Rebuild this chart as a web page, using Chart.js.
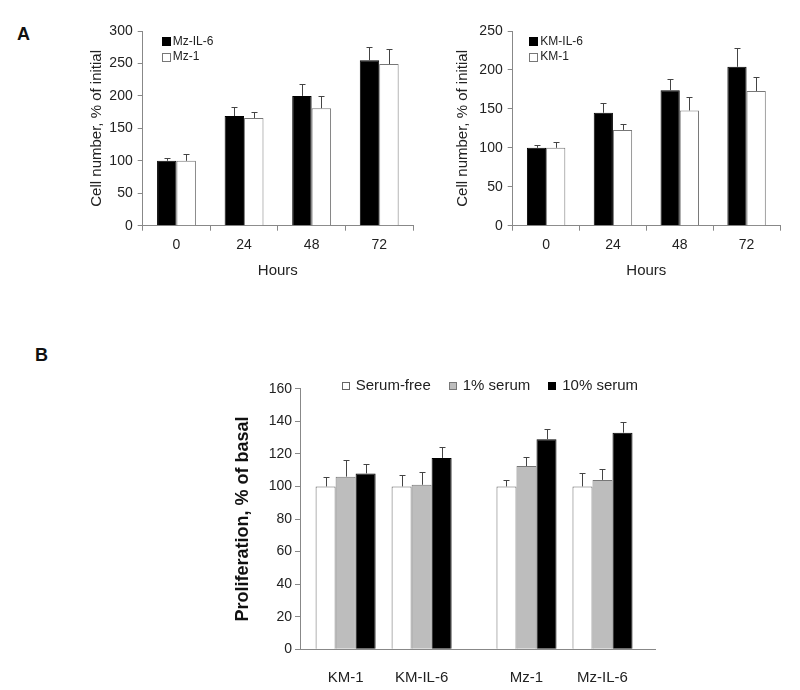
<!DOCTYPE html>
<html>
<head>
<meta charset="utf-8">
<script src="https://cdn.jsdelivr.net/npm/chart.js@4.4.1/dist/chart.umd.min.js"></script>
<style>
body { margin: 0; background: #fff; width: 800px; height: 690px; position: relative; overflow: hidden; font-family: "Liberation Sans", Arial, sans-serif; }
canvas { position: absolute; }
.panel { position: absolute; font-weight: bold; font-size: 18px; line-height: 18px; color: #111; }
</style>
</head>
<body>
<div class="panel" style="left:17px;top:25px">A</div>
<div class="panel" style="left:35px;top:346px">B</div>
<canvas id="chartMz" width="420" height="290" style="left:0;top:0"></canvas>
<canvas id="chartKm" width="380" height="290" style="left:420px;top:0"></canvas>
<canvas id="chartSerum" width="620" height="360" style="left:180px;top:330px"></canvas>
<script>
'use strict';

// panel A
var hours = ['0', '24', '48', '72'];
var mzIL6 = [100, 169, 200, 255];
var mzIL6Err = [4, 14, 18, 21];
var mz1 = [100, 166, 181, 249];
var mz1Err = [10, 9, 19, 24];

var kmIL6 = [100, 145, 174, 204];
var kmIL6Err = [4, 12, 14, 24];
var km1 = [100, 123, 148, 173];
var km1Err = [7, 8, 17, 18];

// panel B
var cellLines = ['KM-1', 'KM-IL-6', 'Mz-1', 'Mz-IL-6'];
var serumFree = [100, 100, 100, 100];
var serumFreeErr = [6, 7, 4, 8];
var serum1 = [106, 101, 112.5, 104];
var serum1Err = [10, 8, 5.5, 7];
var serum10 = [108, 117.5, 129, 133];
var serum10Err = [5.5, 7, 6.5, 6.5];

var FONT = '"Liberation Sans", Arial, sans-serif';
var TEXT = '#222';
var AXIS = '#888';

Chart.defaults.font.family = FONT;
Chart.defaults.color = TEXT;
Chart.defaults.animation = false;
Chart.defaults.plugins.legend.display = false;
Chart.defaults.plugins.tooltip.enabled = false;

// upper half error bars, like the excel original
var errorBars = {
    id: 'errorBars',
    afterDatasetsDraw: function (chart) {
        var ctx = chart.ctx;
        var yScale = chart.scales.y;
        ctx.save();
        ctx.strokeStyle = '#444';
        ctx.lineWidth = 1;
        chart.data.datasets.forEach(function (ds, di) {
            var meta = chart.getDatasetMeta(di);
            if (!ds.errors) return;
            meta.data.forEach(function (bar, i) {
                var d = ds.data[i];
                var v = typeof d === 'object' ? d.y : d;
                var top = Math.round(yScale.getPixelForValue(v + ds.errors[i])) + 0.5;
                var x = Math.round(bar.x) + 0.5;
                ctx.beginPath();
                ctx.moveTo(x, bar.y);
                ctx.lineTo(x, top);
                ctx.moveTo(x - 3, top);
                ctx.lineTo(x + 3, top);
                ctx.stroke();
            });
        });
        ctx.restore();
    }
};

var boxLegend = {
    id: 'boxLegend',
    afterDraw: function (chart, args, opts) {
        var ctx = chart.ctx;
        var area = chart.chartArea;
        var b = opts.box;
        var x = area.left + opts.dx;
        var y = area.top + opts.dy;
        ctx.save();
        ctx.font = opts.size + 'px ' + FONT;
        ctx.textBaseline = 'middle';
        ctx.lineWidth = 1;
        chart.data.datasets.forEach(function (ds) {
            var bx = Math.round(x), by = Math.round(y - b / 2);
            ctx.fillStyle = ds.backgroundColor;
            ctx.fillRect(bx, by, b, b);
            ctx.strokeStyle = ds.borderColor;
            ctx.strokeRect(bx + 0.5, by + 0.5, b - 1, b - 1);
            ctx.fillStyle = TEXT;
            ctx.fillText(ds.label, x + b + opts.gap, y);
            if (opts.horizontal) {
                x += b + opts.gap + ctx.measureText(ds.label).width + opts.spacing;
            } else {
                y += opts.row;
            }
        });
        ctx.restore();
    }
};

function fixWidth(w) {
    return function (s) { s.width = w; };
}
function fixHeight(h) {
    return function (s) { s.height = h; };
}

function growthChart(id, names, vals, errs, yMax, yWidth, pad, legendDx) {
    return new Chart(document.getElementById(id), {
        type: 'bar',
        data: {
            labels: hours,
            datasets: [{
                label: names[0],
                data: vals[0],
                errors: errs[0],
                backgroundColor: '#000',
                borderColor: '#000',
                borderWidth: 1
            }, {
                label: names[1],
                data: vals[1],
                errors: errs[1],
                backgroundColor: '#fff',
                borderColor: '#777',
                borderWidth: 1
            }]
        },
        options: {
            responsive: false,
            layout: { padding: pad },
            datasets: { bar: { categoryPercentage: 0.575, barPercentage: 1 } },
            scales: {
                x: {
                    grid: { offset: true, drawOnChartArea: false, tickLength: 5, color: AXIS },
                    border: { color: AXIS },
                    ticks: { font: { size: 14 }, padding: 6, color: TEXT },
                    title: { display: true, text: 'Hours', font: { size: 15 }, padding: { top: 4, bottom: 4 }, color: TEXT },
                    afterFit: fixHeight(58.3)
                },
                y: {
                    min: 0,
                    max: yMax,
                    grid: { drawOnChartArea: false, tickLength: 5, color: AXIS },
                    border: { color: AXIS },
                    ticks: { stepSize: 50, font: { size: 14 }, padding: 5, color: TEXT },
                    title: { display: true, text: 'Cell number, % of initial', font: { size: 15 }, padding: { top: 4, bottom: 4 }, color: TEXT },
                    afterFit: fixWidth(yWidth)
                }
            },
            plugins: {
                boxLegend: { box: 9, gap: 2, size: 12, dx: legendDx, dy: 10.7, row: 15.3 }
            }
        },
        plugins: [errorBars, boxLegend]
    });
}

growthChart('chartMz', ['Mz-IL-6', 'Mz-1'], [mzIL6, mz1], [mzIL6Err, mz1Err],
    300, 58.7, { left: 84, right: 7, top: 31, bottom: 6 }, 19);
growthChart('chartKm', ['KM-IL-6', 'KM-1'], [kmIL6, km1], [kmIL6Err, km1Err],
    250, 62.7, { left: 30, right: 20, top: 31, bottom: 6 }, 16.6);

// KM and Mz pairs sit a bit apart, so place groups on a linear axis
var pairGap = 0.38;
function groupPos(i) {
    return i + (i >= 2 ? pairGap : 0);
}
function points(vals) {
    return vals.map(function (v, i) { return { x: groupPos(i), y: v }; });
}

new Chart(document.getElementById('chartSerum'), {
    type: 'bar',
    data: {
        datasets: [{
            label: 'Serum-free',
            data: points(serumFree),
            errors: serumFreeErr,
            backgroundColor: '#fff',
            borderColor: '#666',
            borderWidth: 1
        }, {
            label: '1% serum',
            data: points(serum1),
            errors: serum1Err,
            backgroundColor: '#bdbdbd',
            borderColor: '#777',
            borderWidth: 1
        }, {
            label: '10% serum',
            data: points(serum10),
            errors: serum10Err,
            backgroundColor: '#000',
            borderColor: '#000',
            borderWidth: 1
        }]
    },
    options: {
        responsive: false,
        layout: { padding: { left: 48.2, right: 144.3, top: 58.7, bottom: 0 } },
        datasets: { bar: { categoryPercentage: 0.79, barPercentage: 1 } },
        scales: {
            x: {
                type: 'linear',
                offset: false,
                min: -0.6,
                max: 4.08,
                grid: { display: false, offset: false },
                border: { display: true, color: AXIS },
                afterBuildTicks: function (s) {
                    s.ticks = cellLines.map(function (c, i) { return { value: groupPos(i) }; });
                },
                ticks: {
                    font: { size: 15 },
                    padding: 12,
                    color: TEXT,
                    callback: function (v, i) { return cellLines[i]; }
                },
                afterFit: fixHeight(40.7)
            },
            y: {
                min: 0,
                max: 160,
                grid: { drawOnChartArea: false, tickLength: 5, color: AXIS },
                border: { color: AXIS },
                ticks: { stepSize: 20, font: { size: 14 }, padding: 3, color: TEXT },
                title: { display: true, text: 'Proliferation, % of basal', font: { size: 18, weight: 'bold' }, padding: { top: 4, bottom: 4 }, color: '#111' },
                afterFit: fixWidth(71.8)
            }
        },
        plugins: {
            boxLegend: { box: 8, gap: 6, size: 15, dx: 41.7, dy: -2.7, spacing: 18, horizontal: true }
        }
    },
    plugins: [errorBars, boxLegend]
});
</script>
</body>
</html>
